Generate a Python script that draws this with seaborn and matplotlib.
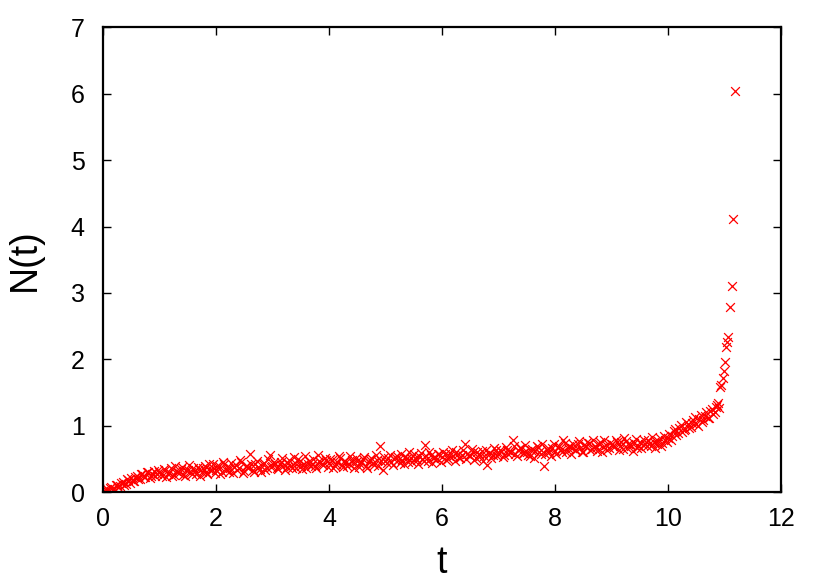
import seaborn as sns
import pandas as pd
import matplotlib.pyplot as plt

# t values, one list per unit step
t0 = [0.00, 0.05, 0.10, 0.15, 0.20, 0.25, 0.30, 0.35, 0.40, 0.45, 0.50, 0.55, 0.60, 0.65, 0.70, 0.75, 0.80, 0.85, 0.90, 0.95]
t1 = [1.00, 1.05, 1.10, 1.15, 1.20, 1.25, 1.30, 1.35, 1.40, 1.45, 1.50, 1.55, 1.60, 1.65, 1.70, 1.75, 1.80, 1.85, 1.90, 1.95]
t2 = [2.00, 2.05, 2.10, 2.15, 2.20, 2.25, 2.30, 2.35, 2.40, 2.45, 2.50, 2.55, 2.60, 2.65, 2.70, 2.75, 2.80, 2.85, 2.90, 2.95]
t3 = [3.00, 3.05, 3.10, 3.15, 3.20, 3.25, 3.30, 3.35, 3.40, 3.45, 3.50, 3.55, 3.60, 3.65, 3.70, 3.75, 3.80, 3.85, 3.90, 3.95]
t4 = [4.00, 4.05, 4.10, 4.15, 4.20, 4.25, 4.30, 4.35, 4.40, 4.45, 4.50, 4.55, 4.60, 4.65, 4.70, 4.75, 4.80, 4.85, 4.90, 4.95]
t5 = [5.00, 5.05, 5.10, 5.15, 5.20, 5.25, 5.30, 5.35, 5.40, 5.45, 5.50, 5.55, 5.60, 5.65, 5.70, 5.75, 5.80, 5.85, 5.90, 5.95]
t6 = [6.00, 6.05, 6.10, 6.15, 6.20, 6.25, 6.30, 6.35, 6.40, 6.45, 6.50, 6.55, 6.60, 6.65, 6.70, 6.75, 6.80, 6.85, 6.90, 6.95]
t7 = [7.00, 7.05, 7.10, 7.15, 7.20, 7.25, 7.30, 7.35, 7.40, 7.45, 7.50, 7.55, 7.60, 7.65, 7.70, 7.75, 7.80, 7.85, 7.90, 7.95]
t8 = [8.00, 8.05, 8.10, 8.15, 8.20, 8.25, 8.30, 8.35, 8.40, 8.45, 8.50, 8.55, 8.60, 8.65, 8.70, 8.75, 8.80, 8.85, 8.90, 8.95]
t9 = [9.00, 9.05, 9.10, 9.15, 9.20, 9.25, 9.30, 9.35, 9.40, 9.45, 9.50, 9.55, 9.60, 9.65, 9.70, 9.75, 9.80, 9.85, 9.90, 9.95]
t10 = [10.00, 10.05, 10.10, 10.15, 10.20, 10.25, 10.30, 10.35, 10.40, 10.45, 10.50, 10.55, 10.60, 10.65, 10.70, 10.75, 10.80, 10.85]
t_tail = [10.88, 10.90, 10.92, 10.94, 10.97, 10.99, 11.01, 11.03, 11.05, 11.06, 11.10, 11.13, 11.15, 11.18]

# in-between samples
tb0 = [0.025, 0.075, 0.125, 0.175, 0.225, 0.275, 0.325, 0.375, 0.425, 0.475, 0.525, 0.575, 0.625, 0.675, 0.725, 0.775, 0.825, 0.875, 0.925, 0.975]
tb1 = [1.025, 1.075, 1.125, 1.175, 1.225, 1.275, 1.325, 1.375, 1.425, 1.475, 1.525, 1.575, 1.625, 1.675, 1.725, 1.775, 1.825, 1.875, 1.925, 1.975]
tb2 = [2.025, 2.075, 2.125, 2.175, 2.225, 2.275, 2.325, 2.375, 2.425, 2.475, 2.525, 2.575, 2.625, 2.675, 2.725, 2.775, 2.825, 2.875, 2.925, 2.975]
tb3 = [3.025, 3.075, 3.125, 3.175, 3.225, 3.275, 3.325, 3.375, 3.425, 3.475, 3.525, 3.575, 3.625, 3.675, 3.725, 3.775, 3.825, 3.875, 3.925, 3.975]
tb4 = [4.025, 4.075, 4.125, 4.175, 4.225, 4.275, 4.325, 4.375, 4.425, 4.475, 4.525, 4.575, 4.625, 4.675, 4.725, 4.775, 4.825, 4.875, 4.925, 4.975]
tb5 = [5.025, 5.075, 5.125, 5.175, 5.225, 5.275, 5.325, 5.375, 5.425, 5.475, 5.525, 5.575, 5.625, 5.675, 5.725, 5.775, 5.825, 5.875, 5.925, 5.975]
tb6 = [6.025, 6.075, 6.125, 6.175, 6.225, 6.275, 6.325, 6.375, 6.425, 6.475, 6.525, 6.575, 6.625, 6.675, 6.725, 6.775, 6.825, 6.875, 6.925, 6.975]
tb7 = [7.025, 7.075, 7.125, 7.175, 7.225, 7.275, 7.325, 7.375, 7.425, 7.475, 7.525, 7.575, 7.625, 7.675, 7.725, 7.775, 7.825, 7.875, 7.925, 7.975]
tb8 = [8.025, 8.075, 8.125, 8.175, 8.225, 8.275, 8.325, 8.375, 8.425, 8.475, 8.525, 8.575, 8.625, 8.675, 8.725, 8.775, 8.825, 8.875, 8.925, 8.975]
tb9 = [9.025, 9.075, 9.125, 9.175, 9.225, 9.275, 9.325, 9.375, 9.425, 9.475, 9.525, 9.575, 9.625, 9.675, 9.725, 9.775, 9.825, 9.875, 9.925, 9.975]
tb10 = [10.025, 10.075, 10.125, 10.175, 10.225, 10.275, 10.325, 10.375, 10.425, 10.475, 10.525, 10.575, 10.625, 10.675, 10.725, 10.775, 10.825, 10.875]

# N(t) values matching the lists above
n0 = [0.01, 0.03, 0.02, 0.07, 0.05, 0.11, 0.09, 0.15, 0.12, 0.18, 0.21, 0.16, 0.25, 0.19, 0.27, 0.23, 0.30, 0.25, 0.32, 0.27]
n1 = [0.31, 0.24, 0.34, 0.28, 0.36, 0.26, 0.32, 0.29, 0.38, 0.25, 0.33, 0.30, 0.37, 0.27, 0.35, 0.31, 0.40, 0.28, 0.34, 0.42]
n2 = [0.33, 0.39, 0.30, 0.43, 0.35, 0.37, 0.29, 0.41, 0.36, 0.45, 0.32, 0.40, 0.57, 0.34, 0.42, 0.38, 0.31, 0.44, 0.37, 0.56]
n3 = [0.39, 0.43, 0.35, 0.46, 0.41, 0.38, 0.48, 0.36, 0.44, 0.50, 0.40, 0.42, 0.37, 0.47, 0.43, 0.39, 0.56, 0.45, 0.41, 0.49]
n4 = [0.44, 0.48, 0.40, 0.46, 0.51, 0.38, 0.45, 0.42, 0.49, 0.36, 0.47, 0.43, 0.50, 0.40, 0.46, 0.52, 0.41, 0.48, 0.69, 0.33]
n5 = [0.47, 0.52, 0.45, 0.50, 0.55, 0.44, 0.49, 0.53, 0.46, 0.51, 0.57, 0.48, 0.54, 0.50, 0.71, 0.47, 0.56, 0.52, 0.49, 0.58]
n6 = [0.53, 0.57, 0.50, 0.59, 0.55, 0.61, 0.52, 0.56, 0.72, 0.58, 0.54, 0.60, 0.51, 0.57, 0.62, 0.55, 0.41, 0.59, 0.56, 0.63]
n7 = [0.58, 0.62, 0.56, 0.64, 0.60, 0.79, 0.57, 0.63, 0.66, 0.59, 0.61, 0.55, 0.65, 0.62, 0.68, 0.58, 0.39, 0.64, 0.60, 0.67]
n8 = [0.62, 0.68, 0.64, 0.79, 0.60, 0.70, 0.66, 0.63, 0.72, 0.67, 0.61, 0.69, 0.74, 0.65, 0.70, 0.62, 0.76, 0.68, 0.71, 0.66]
n9 = [0.73, 0.68, 0.75, 0.70, 0.65, 0.77, 0.72, 0.69, 0.74, 0.67, 0.76, 0.71, 0.73, 0.79, 0.70, 0.75, 0.72, 0.81, 0.74, 0.78]
n10 = [0.82, 0.79, 0.92, 0.86, 0.97, 0.91, 0.95, 1.02, 0.98, 1.08, 1.03, 1.10, 1.06, 1.15, 1.12, 1.22, 1.18, 1.28]
n_tail = [1.34, 1.26, 1.58, 1.62, 1.72, 1.82, 1.96, 2.18, 2.26, 2.34, 2.79, 3.10, 4.11, 6.04]

nb0 = [0.00, 0.04, 0.06, 0.03, 0.10, 0.07, 0.14, 0.11, 0.19, 0.13, 0.17, 0.23, 0.20, 0.28, 0.22, 0.31, 0.21, 0.28, 0.24, 0.33]
nb1 = [0.27, 0.35, 0.22, 0.31, 0.25, 0.39, 0.30, 0.35, 0.26, 0.34, 0.41, 0.28, 0.32, 0.38, 0.24, 0.36, 0.30, 0.43, 0.33, 0.29]
nb2 = [0.40, 0.27, 0.46, 0.34, 0.31, 0.44, 0.38, 0.33, 0.48, 0.29, 0.39, 0.36, 0.42, 0.31, 0.47, 0.35, 0.43, 0.33, 0.50, 0.38]
nb3 = [0.45, 0.36, 0.42, 0.51, 0.34, 0.44, 0.40, 0.53, 0.37, 0.46, 0.35, 0.55, 0.43, 0.39, 0.50, 0.36, 0.47, 0.42, 0.52, 0.38]
nb4 = [0.50, 0.37, 0.43, 0.54, 0.41, 0.47, 0.39, 0.55, 0.44, 0.51, 0.38, 0.45, 0.53, 0.37, 0.49, 0.44, 0.56, 0.40, 0.47, 0.53]
nb5 = [0.44, 0.56, 0.41, 0.53, 0.48, 0.58, 0.43, 0.51, 0.60, 0.45, 0.52, 0.42, 0.59, 0.47, 0.55, 0.61, 0.44, 0.53, 0.57, 0.46]
nb6 = [0.60, 0.48, 0.54, 0.63, 0.47, 0.58, 0.52, 0.64, 0.50, 0.56, 0.65, 0.49, 0.60, 0.54, 0.47, 0.63, 0.58, 0.52, 0.66, 0.55]
nb7 = [0.63, 0.53, 0.68, 0.57, 0.61, 0.70, 0.54, 0.66, 0.59, 0.71, 0.56, 0.64, 0.52, 0.69, 0.60, 0.73, 0.57, 0.67, 0.55, 0.72]
nb8 = [0.57, 0.70, 0.61, 0.74, 0.66, 0.58, 0.73, 0.64, 0.77, 0.60, 0.69, 0.75, 0.63, 0.79, 0.67, 0.72, 0.61, 0.78, 0.64, 0.74]
nb9 = [0.69, 0.78, 0.63, 0.75, 0.81, 0.67, 0.73, 0.62, 0.80, 0.70, 0.66, 0.78, 0.69, 0.74, 0.83, 0.67, 0.77, 0.70, 0.84, 0.76]
nb10 = [0.88, 0.84, 0.95, 0.89, 1.01, 0.93, 1.05, 0.97, 1.04, 1.13, 1.00, 1.16, 1.09, 1.20, 1.11, 1.25, 1.21, 1.31]

t = (t0 + t1 + t2 + t3 + t4 + t5 + t6 + t7 + t8 + t9 + t10 + t_tail
     + tb0 + tb1 + tb2 + tb3 + tb4 + tb5 + tb6 + tb7 + tb8 + tb9 + tb10)
n = (n0 + n1 + n2 + n3 + n4 + n5 + n6 + n7 + n8 + n9 + n10 + n_tail
     + nb0 + nb1 + nb2 + nb3 + nb4 + nb5 + nb6 + nb7 + nb8 + nb9 + nb10)
df = pd.DataFrame({'t': t, 'N': n})

sns.set_style('ticks')
plt.rcParams['font.family'] = ['Liberation Sans', 'DejaVu Sans']
plt.rcParams['text.color'] = 'black'
plt.rcParams['axes.labelcolor'] = 'black'
plt.rcParams['xtick.color'] = 'black'
plt.rcParams['ytick.color'] = 'black'
plt.rcParams['axes.edgecolor'] = 'black'

fig = plt.figure(figsize=(8.3, 5.81), dpi=100)
ax = fig.add_axes([0.124, 0.153, 0.817, 0.8])

sns.scatterplot(x='t', y='N', data=df, marker='x', color='#ff0000', s=40, linewidth=0.9, ax=ax)

ax.set_xlim(0, 12)
ax.set_ylim(0, 7)
ax.set_xticks(range(0, 13, 2))
ax.set_yticks(range(0, 8))
ax.tick_params(direction='in', top=True, right=True, length=6, width=1, labelsize=18)
ax.tick_params(axis='x', pad=11)
ax.tick_params(axis='y', pad=13)
for s in ax.spines.values():
    s.set_linewidth(1.6)
    s.set_visible(True)
ax.set_xlabel('t', fontsize=27, labelpad=10)
ax.set_ylabel('N(t)', fontsize=27, labelpad=20)

plt.savefig('out.png', dpi=100)
